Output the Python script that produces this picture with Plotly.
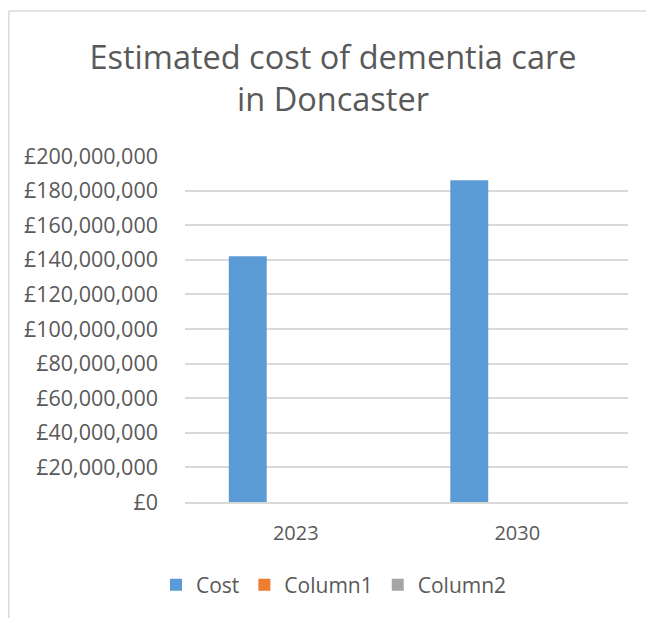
import plotly.graph_objects as go

categories = ["2023", "2030"]
cost = [142000000, 186000000]
column1 = [0, 0]
column2 = [0, 0]
y_tick_values = [0, 20000000, 40000000, 60000000, 80000000, 100000000,
                 120000000, 140000000, 160000000, 180000000, 200000000]
y_tick_labels = ["£0", "£20,000,000", "£40,000,000", "£60,000,000", "£80,000,000",
                 "£100,000,000", "£120,000,000", "£140,000,000", "£160,000,000",
                 "£180,000,000", "£200,000,000"]

# page body has an 8px margin, so the figure is placed 8px in from the top-left
W, H = 646, 610
L, R, T, B = 177, 620, 148, 494

fig = go.Figure()
fig.add_trace(go.Bar(name="Cost", x=categories, y=cost, marker=dict(color="#5B9BD5", line=dict(width=0))))
fig.add_trace(go.Bar(name="Column1", x=categories, y=column1, marker=dict(color="#ED7D31", line=dict(width=0))))
fig.add_trace(go.Bar(name="Column2", x=categories, y=column2, marker=dict(color="#A5A5A5", line=dict(width=0))))


def px(x):
    return (x - L) / (R - L)


def py(y):
    return (B - y) / (B - T)


fig.update_layout(
    width=W, height=H,
    margin=dict(l=L, r=W - R, t=T, b=H - B, autoexpand=False),
    paper_bgcolor="white", plot_bgcolor="white",
    barmode="group", bargap=0.35, bargroupgap=0.21,
    font=dict(family="Open Sans", color="#595959", size=20),
    title=dict(text="Estimated cost of dementia care<br>in Doncaster",
               font=dict(family="Open Sans", color="#595959", size=32.5),
               x=325 / W, xanchor="center", xref="container",
               y=1 - 61 / H, yanchor="top", yref="container"),
    showlegend=True,
    legend=dict(orientation="h", x=326 / W, xanchor="center", xref="container",
                y=1 - 577 / H, yanchor="middle", yref="container",
                font=dict(family="Open Sans", color="#595959", size=21),
                itemsizing="constant", traceorder="normal", itemwidth=30),
    xaxis=dict(showgrid=False, showline=True, linecolor="#d9d9d9", linewidth=1.5,
               tickfont=dict(size=20, color="#595959"), ticks="", ticklabelstandoff=12),
    yaxis=dict(range=[0, 200000000], tickmode="array", tickvals=y_tick_values,
               ticktext=y_tick_labels,
               showgrid=True, gridcolor="#d9d9d9", gridwidth=1.5, zeroline=False,
               showline=False, ticks="", tickfont=dict(size=21.5, color="#595959"),
               ticklabelstandoff=26),
    shapes=[
        dict(type="line", xref="paper", yref="paper", x0=px(0.8), x1=px(W), y0=py(3), y1=py(3),
             line=dict(color="#d9d9d9", width=1.5)),
        dict(type="line", xref="paper", yref="paper", x0=px(0.8), x1=px(0.8), y0=py(3), y1=py(H),
             line=dict(color="#d9d9d9", width=1.5)),
    ],
)

fig.write_html("out.html")
